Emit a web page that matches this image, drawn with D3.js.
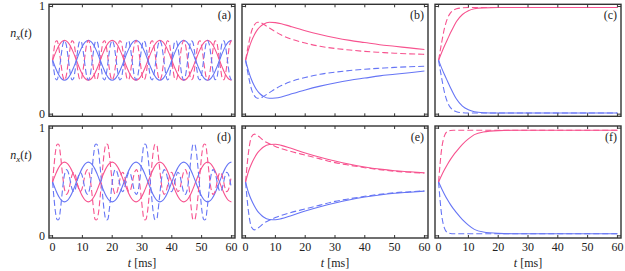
<!doctype html>
<html>
<head>
<style>
  body { margin:0; background:#fff; }
  svg text { font-family:"Liberation Serif","DejaVu Serif",serif; fill:#222; }
</style>
<script src="https://d3js.org/d3.v7.min.js"></script>
</head>
<body>
<script>
// time samples
var tOsc = d3.range(0, 61);          // 1 ms steps
var tFine = d3.range(0, 60.5, 0.5);  // 0.5 ms steps
var tBeat = d3.range(0, 118).map(function(k) { return k * 16.4 / 32; }); // 32 samples per 16.4 ms
var tRelax = [0,1,2,3,4,5,6,8,10,12,15,20,25,30,35,40,45,50,55,60];
var xTicks = [0,10,20,30,40,50,60];
var yTicks = [0,1];
var panelNames = ["(a)","(b)","(c)","(d)","(e)","(f)"];

// (a) solid, 1 ms steps
var aPinkSolid = [.5,.571,.631,.671,.685,.671,.631,.571,.5,.429,.369,.329,.315,.329,.369,.429,
  .5,.571,.631,.671,.685,.671,.631,.571,.5,.429,.369,.329,.315,.329,.369,.429,
  .5,.571,.631,.671,.685,.671,.631,.571,.5,.429,.369,.329,.315,.329,.369,.429,
  .5,.571,.631,.671,.685,.671,.631,.571,.5,.429,.369,.329,.315];
var aBlueSolid = [.5,.429,.369,.329,.315,.329,.369,.429,.5,.571,.631,.671,.685,.671,.631,.571,
  .5,.429,.369,.329,.315,.329,.369,.429,.5,.571,.631,.671,.685,.671,.631,.571,
  .5,.429,.369,.329,.315,.329,.369,.429,.5,.571,.631,.671,.685,.671,.631,.571,
  .5,.429,.369,.329,.315,.329,.369,.429,.5,.571,.631,.671,.685];
// (a) dashed, 0.5 ms steps
var aPinkDashed = [.5,.603,.671,.681,.631,.536,.429,.346,.315,.346,.429,.536,.631,.681,.671,.603,.5,.397,.329,.319,.369,.464,.571,.654,.685,.654,.571,.464,.369,.319,.329,.397,
  .5,.603,.671,.681,.631,.536,.429,.346,.315,.346,.429,.536,.631,.681,.671,.603,.5,.397,.329,.319,.369,.464,.571,.654,.685,.654,.571,.464,.369,.319,.329,.397,
  .5,.603,.671,.681,.631,.536,.429,.346,.315,.346,.429,.536,.631,.681,.671,.603,.5,.397,.329,.319,.369,.464,.571,.654,.685,.654,.571,.464,.369,.319,.329,.397,
  .5,.603,.671,.681,.631,.536,.429,.346,.315,.346,.429,.536,.631,.681,.671,.603,.5,.397,.329,.319,.369,.464,.571,.654,.685];
var aBlueDashed = [.5,.397,.329,.319,.369,.464,.571,.654,.685,.654,.571,.464,.369,.319,.329,.397,.5,.603,.671,.681,.631,.536,.429,.346,.315,.346,.429,.536,.631,.681,.671,.603,
  .5,.397,.329,.319,.369,.464,.571,.654,.685,.654,.571,.464,.369,.319,.329,.397,.5,.603,.671,.681,.631,.536,.429,.346,.315,.346,.429,.536,.631,.681,.671,.603,
  .5,.397,.329,.319,.369,.464,.571,.654,.685,.654,.571,.464,.369,.319,.329,.397,.5,.603,.671,.681,.631,.536,.429,.346,.315,.346,.429,.536,.631,.681,.671,.603,
  .5,.397,.329,.319,.369,.464,.571,.654,.685,.654,.571,.464,.369,.319,.329,.397,.5,.603,.671,.681,.631,.536,.429,.346,.315];

// (d) solid, 1 ms steps
var dPinkSolid = [.5,.571,.631,.671,.685,.671,.631,.571,.5,.429,.369,.329,.315,.329,.369,.429,
  .5,.571,.631,.671,.685,.671,.631,.571,.5,.429,.369,.329,.315,.329,.369,.429,
  .5,.571,.631,.671,.685,.671,.631,.571,.5,.429,.369,.329,.315,.329,.369,.429,
  .5,.571,.631,.671,.685,.671,.631,.571,.5,.429,.369,.329,.315];
var dBlueSolid = [.5,.429,.369,.329,.315,.329,.369,.429,.5,.571,.631,.671,.685,.671,.631,.571,
  .5,.429,.369,.329,.315,.329,.369,.429,.5,.571,.631,.671,.685,.671,.631,.571,
  .5,.429,.369,.329,.315,.329,.369,.429,.5,.571,.631,.671,.685,.671,.631,.571,
  .5,.429,.369,.329,.315,.329,.369,.429,.5,.571,.631,.671,.685];
// (d) dashed, sampled on tBeat
var dPinkDashed = [.5,.66,.79,.85,.85,.77,.64,.51,.42,.385,.4,.45,.52,.575,.59,.56,.5,.44,.41,.425,.48,.55,.6,.615,.58,.49,.36,.23,.15,.15,.21,.34,
  .5,.66,.79,.85,.85,.77,.64,.51,.42,.385,.4,.45,.52,.575,.59,.56,.5,.44,.41,.425,.48,.55,.6,.615,.58,.49,.36,.23,.15,.15,.21,.34,
  .5,.66,.79,.85,.85,.77,.64,.51,.42,.385,.4,.45,.52,.575,.59,.56,.5,.44,.41,.425,.48,.55,.6,.615,.58,.49,.36,.23,.15,.15,.21,.34,
  .5,.66,.79,.85,.85,.77,.64,.51,.42,.385,.4,.45,.52,.575,.59,.56,.5,.44,.41,.425,.48,.55];
var dBlueDashed = [.5,.34,.21,.15,.15,.23,.36,.49,.58,.615,.6,.55,.48,.425,.41,.44,.5,.56,.59,.575,.52,.45,.4,.385,.42,.51,.64,.77,.85,.85,.79,.66,
  .5,.34,.21,.15,.15,.23,.36,.49,.58,.615,.6,.55,.48,.425,.41,.44,.5,.56,.59,.575,.52,.45,.4,.385,.42,.51,.64,.77,.85,.85,.79,.66,
  .5,.34,.21,.15,.15,.23,.36,.49,.58,.615,.6,.55,.48,.425,.41,.44,.5,.56,.59,.575,.52,.45,.4,.385,.42,.51,.64,.77,.85,.85,.79,.66,
  .5,.34,.21,.15,.15,.23,.36,.49,.58,.615,.6,.55,.48,.425,.41,.44,.5,.56,.59,.575,.52,.45];

// (b)
var bPinkSolid  = [.5,.6,.68,.74,.785,.815,.835,.853,.85,.84,.815,.775,.74,.71,.685,.665,.645,.63,.615,.6];
var bPinkDashed = [.5,.65,.77,.83,.853,.85,.835,.8,.765,.735,.7,.66,.63,.61,.595,.583,.574,.566,.56,.555];
var bBlueSolid  = [.5,.4,.32,.26,.215,.185,.165,.147,.15,.16,.185,.225,.26,.29,.315,.335,.355,.37,.385,.4];
var bBlueDashed = [.5,.35,.23,.17,.147,.15,.165,.2,.235,.265,.3,.34,.37,.39,.405,.417,.426,.434,.44,.445];
// (c)
var cPinkSolid  = [.5,.57,.635,.695,.755,.81,.86,.925,.96,.978,.987,.99,.99,.99,.99,.99,.99,.99,.99,.99];
var cPinkDashed = [.5,.66,.8,.89,.94,.965,.978,.987,.99,.99,.99,.99,.99,.99,.99,.99,.99,.99,.99,.99];
var cBlueSolid  = [.5,.43,.365,.305,.245,.19,.14,.075,.04,.022,.013,.01,.01,.01,.01,.01,.01,.01,.01,.01];
var cBlueDashed = [.5,.34,.2,.11,.06,.035,.022,.013,.01,.01,.01,.01,.01,.01,.01,.01,.01,.01,.01,.01];
// (e)
var ePinkSolid  = [.5,.6,.67,.725,.77,.8,.825,.848,.85,.84,.815,.77,.73,.695,.665,.64,.62,.605,.595,.585];
var ePinkDashed = [.5,.78,.92,.945,.93,.91,.885,.855,.83,.81,.785,.75,.715,.68,.655,.633,.615,.6,.59,.583];
var eBlueSolid  = [.5,.4,.33,.275,.23,.2,.175,.152,.15,.16,.185,.23,.27,.305,.335,.36,.38,.395,.405,.415];
var eBlueDashed = [.5,.22,.08,.055,.07,.09,.115,.145,.17,.19,.215,.25,.285,.32,.345,.367,.385,.4,.41,.417];
// (f)
var fPinkSolid  = [.5,.56,.615,.665,.71,.75,.785,.85,.9,.94,.965,.977,.98,.98,.98,.98,.98,.98,.98,.98];
var fPinkDashed = [.5,.8,.93,.97,.978,.98,.98,.98,.98,.98,.98,.98,.98,.98,.98,.98,.98,.98,.98,.98];
var fBlueSolid  = [.5,.44,.385,.335,.29,.25,.215,.15,.1,.06,.035,.023,.02,.02,.02,.02,.02,.02,.02,.02];
var fBlueDashed = [.5,.2,.07,.03,.022,.02,.02,.02,.02,.02,.02,.02,.02,.02,.02,.02,.02,.02,.02,.02];

var pink = "#f7538f", blue = "#6675f5";

// each line: [values, times, colour, dashed]
var panels = [
  {curve: d3.curveCatmullRom, lines: [[aPinkSolid,tOsc,pink,0],[aBlueSolid,tOsc,blue,0],[aPinkDashed,tFine,pink,1],[aBlueDashed,tFine,blue,1]]},
  {curve: d3.curveMonotoneX, lines: [[bPinkSolid,tRelax,pink,0],[bPinkDashed,tRelax,pink,1],[bBlueSolid,tRelax,blue,0],[bBlueDashed,tRelax,blue,1]]},
  {curve: d3.curveMonotoneX, lines: [[cPinkSolid,tRelax,pink,0],[cPinkDashed,tRelax,pink,1],[cBlueSolid,tRelax,blue,0],[cBlueDashed,tRelax,blue,1]]},
  {curve: d3.curveCatmullRom, lines: [[dPinkSolid,tOsc,pink,0],[dBlueSolid,tOsc,blue,0],[dPinkDashed,tBeat,pink,1],[dBlueDashed,tBeat,blue,1]]},
  {curve: d3.curveMonotoneX, lines: [[ePinkSolid,tRelax,pink,0],[ePinkDashed,tRelax,pink,1],[eBlueSolid,tRelax,blue,0],[eBlueDashed,tRelax,blue,1]]},
  {curve: d3.curveMonotoneX, lines: [[fPinkSolid,tRelax,pink,0],[fPinkDashed,tRelax,pink,1],[fBlueSolid,tRelax,blue,0],[fBlueDashed,tRelax,blue,1]]}
];

var svg = d3.select("body").append("svg")
  .attr("width", 625).attr("height", 271);

var colX = [49, 242, 435], rowY = [4.3, 126];
var pw = 186, ph = 112;

panels.forEach(function(p, i) {
  var x0 = colX[i % 3], y0 = rowY[Math.floor(i / 3)];
  var x = d3.scaleLinear().domain([-1.2, 61.2]).range([x0, x0 + pw]);
  var y = d3.scaleLinear().domain([-0.02, 1.02]).range([y0 + ph, y0]);
  var g = svg.append("g");

  // lines stop at t = 60
  g.append("defs").append("clipPath").attr("id", "clip" + i)
    .append("rect").attr("x", x0).attr("y", y0).attr("width", x(60) - x0 + 0.6).attr("height", ph);

  var lg = g.append("g").attr("clip-path", "url(#clip" + i + ")");
  p.lines.forEach(function(l) {
    var ts = l[1];
    var line = d3.line()
      .x(function(d, k) { return x(ts[k]); })
      .y(function(d) { return y(d); })
      .curve(p.curve);
    lg.append("path")
      .attr("d", line(l[0]))
      .attr("fill", "none")
      .attr("stroke", l[2])
      .attr("stroke-width", 1.1)
      .attr("stroke-dasharray", l[3] ? "6,3" : null);
  });

  // ticks, inward on all four sides
  var tk = 3;
  xTicks.forEach(function(v) {
    g.append("line").attr("x1", x(v)).attr("x2", x(v)).attr("y1", y0 + ph).attr("y2", y0 + ph - tk)
      .attr("stroke", "#333").attr("stroke-width", 1);
    g.append("line").attr("x1", x(v)).attr("x2", x(v)).attr("y1", y0).attr("y2", y0 + tk)
      .attr("stroke", "#333").attr("stroke-width", 1);
  });
  yTicks.forEach(function(v) {
    g.append("line").attr("x1", x0).attr("x2", x0 + tk).attr("y1", y(v)).attr("y2", y(v))
      .attr("stroke", "#333").attr("stroke-width", 1);
    g.append("line").attr("x1", x0 + pw).attr("x2", x0 + pw - tk).attr("y1", y(v)).attr("y2", y(v))
      .attr("stroke", "#333").attr("stroke-width", 1);
  });

  g.append("rect").attr("x", x0).attr("y", y0).attr("width", pw).attr("height", ph)
    .attr("fill", "none").attr("stroke", "#333").attr("stroke-width", 1.4);

  g.append("text").attr("x", x0 + pw - 4).attr("y", y0 + 15)
    .attr("text-anchor", "end").style("font-size", "12px").text(panelNames[i]);

  if (i % 3 === 0) {
    yTicks.forEach(function(v) {
      g.append("text").attr("x", x0 - 4).attr("y", y(v) + 4)
        .attr("text-anchor", "end").style("font-size", "12px").text(v);
    });
    var yl = g.append("text").attr("x", 21).attr("y", y0 + 33).attr("text-anchor", "middle")
      .style("font-size", "12px");
    yl.append("tspan").style("font-style", "italic").text("n");
    yl.append("tspan").style("font-style", "italic").style("font-size", "9px").attr("dy", 2.5).text("x");
    yl.append("tspan").attr("dy", -2.5).text("(");
    yl.append("tspan").style("font-style", "italic").text("t");
    yl.append("tspan").text(")");
  }
  if (i >= 3) {
    xTicks.forEach(function(v) {
      g.append("text").attr("x", x(v)).attr("y", 251).attr("text-anchor", "middle")
        .style("font-size", "12px").text(v);
    });
    var xl = g.append("text").attr("x", x0 + pw / 2).attr("y", 267).attr("text-anchor", "middle")
      .style("font-size", "12px");
    xl.append("tspan").style("font-style", "italic").text("t");
    xl.append("tspan").text(" [ms]");
  }
});
</script>
</body>
</html>
